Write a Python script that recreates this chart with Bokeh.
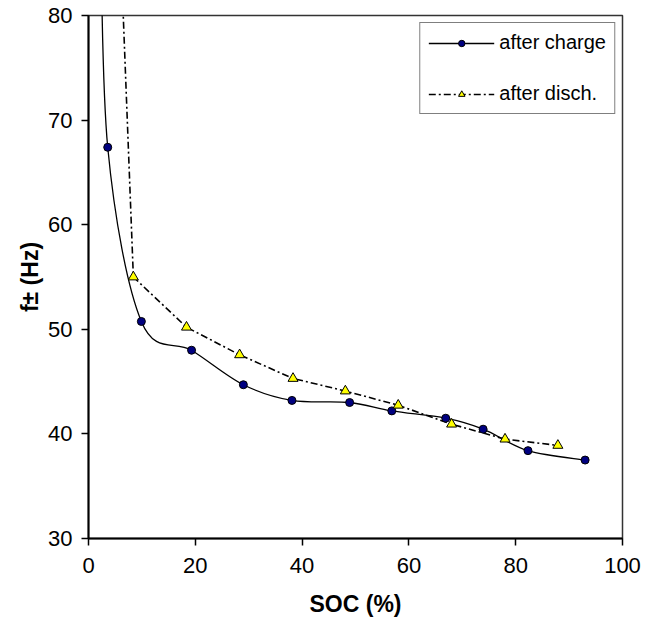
from bokeh.plotting import figure
from bokeh.models import Range1d, FixedTicker, Legend, LegendItem
from bokeh.embed import file_html
from bokeh.resources import INLINE

# ---- data ----
charge_soc = [2.2, 3.6, 9.9, 19.3, 29.0, 38.1, 48.9, 56.8, 66.9, 73.9, 82.3, 93.0]
charge_f = [92.0, 67.4, 50.75, 48.0, 44.7, 43.2, 43.0, 42.2, 41.5, 40.45, 38.4, 37.5]

disch_soc = [5.9, 8.4, 18.35, 28.3, 38.3, 48.1, 58.0, 68.0, 78.0, 87.9]
disch_f = [88.0, 55.0, 50.2, 47.56, 45.3, 44.1, 42.74, 40.93, 39.5, 38.9]

x_ticks = [0, 20, 40, 60, 80, 100]
y_ticks = [30, 40, 50, 60, 70, 80]

FONT = "Liberation Sans"
DASH = "7 3 2 3"


def smooth_segments(xs, ys):
    """Catmull-Rom style bezier control points (like Excel smoothed lines)."""
    n = len(xs)
    x0, y0, x1, y1, cx0, cy0, cx1, cy1 = [], [], [], [], [], [], [], []
    for i in range(n - 1):
        xa, ya = xs[i], ys[i]
        xb, yb = xs[i + 1], ys[i + 1]
        xp, yp = (xs[i - 1], ys[i - 1]) if i > 0 else (xa, ya)
        xn, yn = (xs[i + 2], ys[i + 2]) if i + 2 < n else (xb, yb)
        x0.append(xa); y0.append(ya); x1.append(xb); y1.append(yb)
        cx0.append(xa + (xb - xp) / 6.0); cy0.append(ya + (yb - yp) / 6.0)
        cx1.append(xb - (xn - xa) / 6.0); cy1.append(yb - (yn - ya) / 6.0)
    return dict(x0=x0, y0=y0, x1=x1, y1=y1, cx0=cx0, cy0=cy0, cx1=cx1, cy1=cy1)


p = figure(width=647, height=621, output_backend="svg", toolbar_location=None,
           x_range=Range1d(0, 100), y_range=Range1d(30, 80),
           min_border_left=88, min_border_right=25, min_border_top=15,
           min_border_bottom=83)

p.background_fill_color = "white"
p.border_fill_color = "white"
p.outline_line_color = "#333333"
p.outline_line_width = 1.5
p.xgrid.visible = False
p.ygrid.visible = False

for ax, ticks in ((p.xaxis, x_ticks), (p.yaxis, y_ticks)):
    ax.ticker = FixedTicker(ticks=ticks)
    ax.minor_tick_line_color = None
    ax.major_tick_in = 0
    ax.major_tick_out = 7
    ax.major_tick_line_color = "black"
    ax.major_tick_line_width = 1.5
    ax.axis_line_color = "black"
    ax.axis_line_width = 2
    ax.major_label_text_font = FONT
    ax.major_label_text_font_size = "22px"
    ax.major_label_text_color = "black"
    ax.axis_label_text_font = FONT
    ax.axis_label_text_font_size = "23px"
    ax.axis_label_text_font_style = "bold"
    ax.axis_label_text_color = "black"

p.xaxis.axis_label = "SOC (%)"
p.yaxis.axis_label = "f\u00b1 (Hz)"
p.xaxis.major_label_standoff = 12
p.yaxis.major_label_standoff = 9
p.xaxis.axis_label_standoff = 15
p.yaxis.axis_label_standoff = 2

# after charge: smoothed solid line
cs = smooth_segments(charge_soc, charge_f)
p.bezier(x0="x0", y0="y0", x1="x1", y1="y1", cx0="cx0", cy0="cy0",
         cx1="cx1", cy1="cy1", source=cs, line_color="black", line_width=1.3)
# after discharge: dash-dot line
p.line(disch_soc, disch_f, line_color="black", line_width=1.6, line_dash=DASH)

c_pts = p.scatter(charge_soc, charge_f, marker="circle", size=8,
                  fill_color="#000080", line_color="black", line_width=1)
d_pts = p.scatter(disch_soc, disch_f, marker="triangle", size=10,
                  fill_color="#FFFF00", line_color="black", line_width=1)

# legend proxies (single point, so nothing is drawn in the plot)
c_line = p.line(charge_soc[:1], charge_f[:1], line_color="black", line_width=1.3)
d_line = p.line(disch_soc[:1], disch_f[:1], line_color="black", line_width=1.6,
                line_dash=DASH)

legend = Legend(items=[
    LegendItem(label="after charge", renderers=[c_line, c_pts]),
    LegendItem(label="after disch.", renderers=[d_line, d_pts]),
], location="top_right")
legend.label_text_font = FONT
legend.label_text_font_size = "20px"
legend.label_text_color = "black"
legend.border_line_color = "black"
legend.border_line_width = 1
legend.background_fill_color = "white"
legend.background_fill_alpha = 1
legend.padding = 8
legend.margin = 7
legend.spacing = 28
legend.glyph_height = 16
legend.label_height = 16
legend.glyph_width = 66
legend.label_standoff = 5
p.add_layout(legend, "center")

open("out.html", "w").write(file_html(p, INLINE))
